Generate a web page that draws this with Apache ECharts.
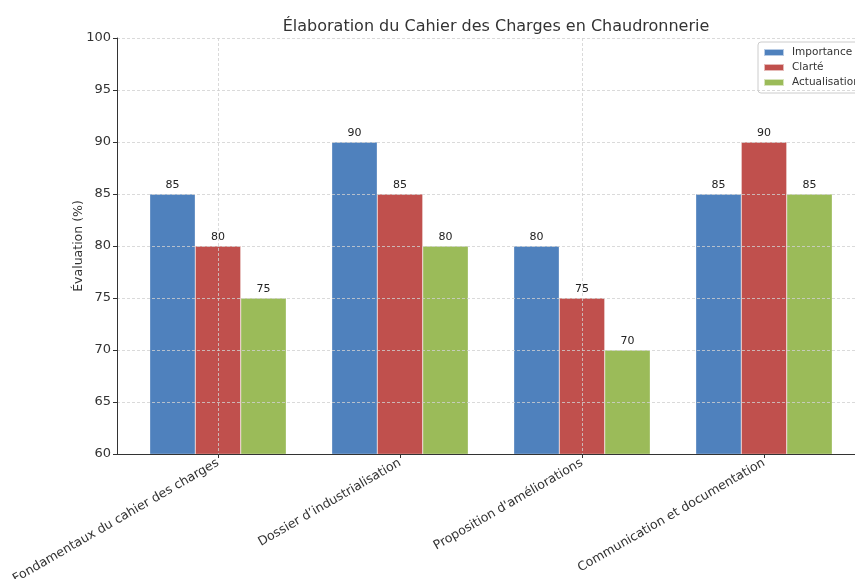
<!DOCTYPE html>
<html>
<head>
<meta charset="utf-8">
<script src="https://cdn.jsdelivr.net/npm/echarts@6/dist/echarts.min.js"></script>
<style>
    html, body { margin: 0; padding: 0; background: #fff; }
    #chart { width: 855px; height: 579px; }
</style>
</head>
<body>
<div id="chart"></div>
<script>
var categories = ['Fondamentaux du cahier des charges', 'Dossier d\u2019industrialisation', 'Proposition d\'améliorations', 'Communication et documentation'];
var importance = [85, 90, 80, 85];
var clarte = [80, 85, 75, 90];
var actualisation = [75, 80, 70, 85];
var yTicks = [60, 100, 5];

var font = 'DejaVu Sans';
var chart = echarts.init(document.getElementById('chart'));

function barSeries(name, data, color) {
    return {
        name: name,
        type: 'bar',
        xAxisIndex: 1,
        yAxisIndex: 1,
        data: data,
        barWidth: 45.5,
        barGap: '0%',
        itemStyle: { color: color, borderColor: 'rgba(255,255,255,0.6)', borderWidth: 0.5 },
        label: {
            show: true,
            position: 'top',
            distance: 3,
            color: '#222',
            fontSize: 11,
            fontFamily: font
        }
    };
}

var gridLine = { show: true, lineStyle: { color: '#d0d0d0', type: [3, 2], width: 0.8 } };
var plotTop = 38, plotBottom = 125;

var option = {
    animation: false,
    title: {
        text: 'Élaboration du Cahier des Charges en Chaudronnerie',
        left: 491,
        textAlign: 'center',
        top: 14,
        textStyle: { fontFamily: font, fontSize: 16, fontWeight: 'normal', color: '#333' }
    },
    legend: {
        orient: 'vertical',
        left: 758,
        top: 42,
        itemWidth: 20,
        itemHeight: 7,
        itemGap: 4,
        padding: [5, 6, 5, 5],
        borderColor: '#ccc',
        borderWidth: 1,
        borderRadius: 3,
        icon: 'rect',
        textStyle: { fontFamily: font, fontSize: 10.5, color: '#333', padding: [0, 0, 0, 3] },
        data: ['Importance', 'Clarté', 'Actualisation']
    },
    grid: [
        // frame with the y axis and bottom spine
        { left: 117, right: 0, top: plotTop, bottom: plotBottom, outerBoundsMode: 'none' },
        // bars, one band of 182px per category
        { left: 127, right: 0, top: plotTop, bottom: plotBottom, outerBoundsMode: 'none' },
        // vertical grid lines through category centers
        { left: 218, right: 91, top: plotTop, bottom: plotBottom, outerBoundsMode: 'none' }
    ],
    xAxis: [
        {
            gridIndex: 0,
            type: 'value',
            min: 0,
            max: 1,
            z: 6,
            axisLine: { show: true, onZero: false, lineStyle: { color: '#333', width: 1 } },
            axisTick: { show: false },
            axisLabel: { show: false },
            splitLine: { show: false }
        },
        {
            gridIndex: 1,
            type: 'category',
            data: categories,
            z: 5,
            axisLine: { show: false },
            axisTick: { show: true, alignWithLabel: true, length: 4, lineStyle: { color: '#333' } },
            axisLabel: {
                interval: 0,
                rotate: 30,
                margin: 8,
                color: '#333',
                fontSize: 12.5,
                fontFamily: font
            },
            splitLine: { show: false }
        },
        {
            gridIndex: 2,
            type: 'category',
            boundaryGap: false,
            data: categories,
            z: 4,
            axisLine: { show: false },
            axisTick: { show: false },
            axisLabel: { show: false },
            splitLine: gridLine
        }
    ],
    yAxis: [
        {
            gridIndex: 0,
            type: 'value',
            min: yTicks[0],
            max: yTicks[1],
            interval: yTicks[2],
            z: 5,
            name: 'Évaluation (%)',
            nameLocation: 'middle',
            nameGap: 32,
            nameMoveOverlap: false,
            nameTextStyle: { fontFamily: font, fontSize: 12.5, color: '#333' },
            axisLine: { show: true, lineStyle: { color: '#333', width: 1 } },
            axisTick: { show: true, length: 4, lineStyle: { color: '#333' } },
            axisLabel: { color: '#333', fontSize: 13, fontFamily: font, margin: 6 },
            splitLine: gridLine
        },
        {
            gridIndex: 1,
            type: 'value',
            min: yTicks[0],
            max: yTicks[1],
            interval: yTicks[2],
            show: false,
            splitLine: { show: false }
        },
        {
            gridIndex: 2,
            type: 'value',
            min: yTicks[0],
            max: yTicks[1],
            interval: yTicks[2],
            show: false,
            splitLine: { show: false }
        }
    ],
    series: [
        barSeries('Importance', importance, '#4F81BD'),
        barSeries('Clarté', clarte, '#C0504D'),
        barSeries('Actualisation', actualisation, '#9BBB59')
    ]
};

chart.setOption(option);
</script>
</body>
</html>
